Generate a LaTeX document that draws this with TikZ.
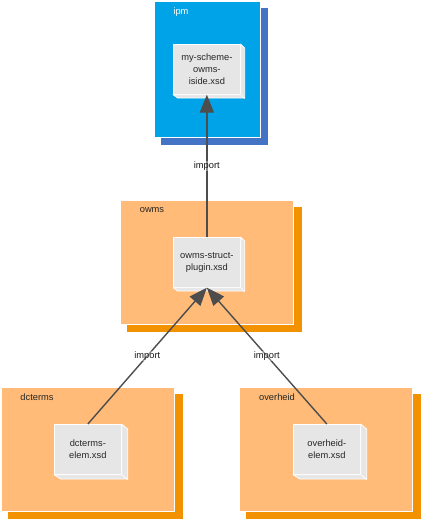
\documentclass[tikz,border=0pt]{standalone}
\usepackage{fontspec}
\setmainfont{Liberation Sans}
\usetikzlibrary{arrows.meta}

\definecolor{ipmblue}{HTML}{00A2E8}
\definecolor{ipmshade}{HTML}{4472C4}
\definecolor{owmsfill}{HTML}{FFBB77}
\definecolor{owmsshade}{HTML}{F39200}
\definecolor{filegray}{HTML}{E6E6E6}
\definecolor{linegray}{HTML}{4D4D4D}

\tikzset{
    groupbox/.style={rectangle, draw=white, line width=0.6pt, inner sep=0pt, anchor=north west, minimum width=173.5pt, minimum height=124.5pt},
    groupshade/.style={rectangle, inner sep=0pt, anchor=north west, minimum width=175pt, minimum height=125pt, fill=owmsshade},
    grouplabel/.style={inner sep=0pt, font=\fontsize{9.3}{11}\selectfont, text=black!85},
    xsdfile/.style={rectangle, draw=white, line width=0.7pt, fill=filegray, inner sep=0pt, anchor=north west, minimum width=67pt, minimum height=50pt, align=center, font=\fontsize{9.3}{11.8}\selectfont, text=black!85},
    fileside/.style={draw=white, line width=0.7pt, fill=filegray, line join=round},
    importline/.style={draw=linegray, line width=1.4pt, -{Triangle[length=18pt,width=14pt]}},
    importlabel/.style={fill=white, fill opacity=0.35, text opacity=1, inner sep=0.5pt, font=\fontsize{9.3}{11}\selectfont, text=black!90}
}

\begin{document}
\begin{tikzpicture}[x=1pt, y=-1pt]
    \useasboundingbox (0,0) rectangle (421,520);

    % Draw groups
    \node[groupshade, minimum width=107pt, minimum height=137pt, fill=ipmshade] (ipmshadow) at (161,8) {};
    \node[groupbox, minimum width=106.5pt, minimum height=136pt, fill=ipmblue] (ipm) at (153.7,1) {};
    \node[groupshade] (owmsshadow) at (127,207) {};
    \node[groupbox, fill=owmsfill] (owms) at (119.7,199.7) {};
    \node[groupshade] (dctermsshadow) at (8,394) {};
    \node[groupbox, fill=owmsfill] (dcterms) at (0.7,386.7) {};
    \node[groupshade] (overheidshadow) at (246,394) {};
    \node[groupbox, fill=owmsfill] (overheid) at (238.7,386.7) {};

    % Group labels
    \node[grouplabel, text=white] (ipmlabel) at (181,12) {ipm};
    \node[grouplabel] (owmslabel) at (152,210) {owms};
    \node[grouplabel] (dctermslabel) at (37,397) {dcterms};
    \node[grouplabel] (overheidlabel) at (277,397) {overheid};

    % Draw files
    \node[xsdfile] (ipmfile) at (173,44) {my-scheme-\\owms-\\iside.xsd};
    \node[xsdfile] (owmsfile) at (173,237) {owms-struct-\\plugin.xsd};
    \node[xsdfile] (dctermsfile) at (54,424) {dcterms-\\elem.xsd};
    \node[xsdfile] (overheidfile) at (293,424) {overheid-\\elem.xsd};

    % Side faces of the files
    \draw[fileside] (ipmfile.north east) -- ++(4,4) -- ++(0,50) -- ++(-67,0) -- (ipmfile.south west) -- (ipmfile.south east) -- cycle;
    \draw[fileside] (ipmfile.south east) -- ++(4,4);
    \draw[fileside] (owmsfile.north east) -- ++(4,4) -- ++(0,50) -- ++(-67,0) -- (owmsfile.south west) -- (owmsfile.south east) -- cycle;
    \draw[fileside] (owmsfile.south east) -- ++(4,4);
    \draw[fileside] (dctermsfile.north east) -- ++(6,5) -- ++(0,50) -- ++(-67,0) -- (dctermsfile.south west) -- (dctermsfile.south east) -- cycle;
    \draw[fileside] (dctermsfile.south east) -- ++(6,5);
    \draw[fileside] (overheidfile.north east) -- ++(6,5) -- ++(0,50) -- ++(-67,0) -- (overheidfile.south west) -- (overheidfile.south east) -- cycle;
    \draw[fileside] (overheidfile.south east) -- ++(6,5);

    % Draw connections
    \draw[importline] (owmsfile.north) -- (ipmfile.south) node[importlabel, midway] (importa) {import};
    \draw[importline] (dctermsfile.north) -- (owmsfile.south) node[importlabel, midway] (importb) {import};
    \draw[importline] (overheidfile.north) -- (owmsfile.south) node[importlabel, midway] (importc) {import};
\end{tikzpicture}
\end{document}
